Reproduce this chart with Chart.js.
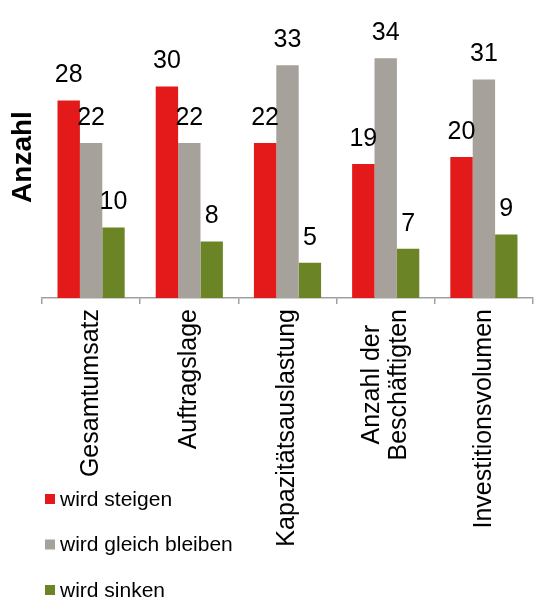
<!DOCTYPE html>
<html>
<head>
<meta charset="utf-8">
<script src="https://cdn.jsdelivr.net/npm/chart.js@4"></script>
<style>
  html, body { margin: 0; padding: 0; background: #fff; }
  #wrap { width: 534px; height: 598px; }
</style>
</head>
<body>
<div id="wrap"><canvas id="chart"></canvas></div>
<script>
const categories = ['Gesamtumsatz', 'Auftragslage', 'Kapazitätsauslastung', ['Anzahl der', 'Beschäftigten'], 'Investitionsvolumen'];
const seriesNames = ['wird steigen', 'wird gleich bleiben', 'wird sinken'];
const steigen = [28, 30, 22, 19, 20];
const gleich = [22, 22, 33, 34, 31];
const sinken = [10, 8, 5, 7, 9];
const colors = ['#E41A1A', '#A6A29B', '#6B8526'];

const FONT = '"Liberation Sans", Arial, sans-serif';

// value labels above each bar
const valueLabels = {
    id: 'valueLabels',
    afterDatasetsDraw(chart) {
        const ctx = chart.ctx;
        ctx.save();
        ctx.font = '25px ' + FONT;
        ctx.fillStyle = '#000';
        ctx.textAlign = 'center';
        ctx.textBaseline = 'middle';
        chart.data.datasets.forEach(function (ds, i) {
            chart.getDatasetMeta(i).data.forEach(function (bar, j) {
                ctx.fillText(ds.data[j], bar.x, bar.y - 25);
            });
        });
        ctx.restore();
    }
};

// center multi-line category labels on their tick, lines centred like Excel
const centerMultiline = {
    id: 'centerMultiline',
    beforeDraw(chart) {
        const scale = chart.scales.x;
        const items = scale.getLabelItems();
        const ctx = chart.ctx;
        items.forEach(function (item) {
            if (!Array.isArray(item.label) || item._centered || !item.font) return;
            ctx.save();
            ctx.font = item.font.string;
            let widest = Math.max.apply(null, item.label.map(function (l) { return ctx.measureText(l).width; }));
            ctx.restore();
            let lh = item.font.lineHeight;
            item.options.translation[0] -= (item.label.length - 1) * lh / 2;
            item.options.translation[1] += widest / 2;
            item.options.textAlign = 'center';
            item._centered = true;
        });
    }
};

// legend drawn in the lower left, over the label area like the original
const sideLegend = {
    id: 'sideLegend',
    afterDraw(chart) {
        const ctx = chart.ctx;
        ctx.save();
        ctx.font = '21px ' + FONT;
        ctx.textBaseline = 'middle';
        chart.data.datasets.forEach(function (ds, i) {
            let y = 499 + i * 45.5;
            ctx.fillStyle = ds.backgroundColor;
            ctx.fillRect(45, y - 5, 10, 10);
            ctx.fillStyle = '#000';
            ctx.fillText(ds.label, 60, y + 1);
        });
        ctx.restore();
    }
};

const ctx = document.getElementById('chart').getContext('2d');
let chart = new Chart(ctx, {
    type: 'bar',
    data: {
        labels: categories,
        datasets: [
            { label: seriesNames[0], data: steigen, backgroundColor: colors[0] },
            { label: seriesNames[1], data: gleich, backgroundColor: colors[1] },
            { label: seriesNames[2], data: sinken, backgroundColor: colors[2] }
        ]
    },
    options: {
        responsive: true,
        maintainAspectRatio: false,
        animation: false,
        layout: { padding: { top: 16, right: 1, left: 0, bottom: 0 } },
        datasets: {
            bar: { barPercentage: 1, categoryPercentage: 0.684 }
        },
        plugins: {
            legend: { display: false },
            tooltip: { enabled: false }
        },
        scales: {
            x: {
                grid: {
                    offset: true,
                    drawOnChartArea: false,
                    drawTicks: true,
                    tickLength: 6,
                    color: '#a0a0a0',
                    lineWidth: 1.5
                },
                border: { color: '#a0a0a0', width: 1.5 },
                ticks: {
                    minRotation: 90,
                    maxRotation: 90,
                    autoSkip: false,
                    padding: 5,
                    color: '#000',
                    font: { family: FONT, size: 25, lineHeight: 1.05 }
                },
                afterFit(scale) { scale.height = 300; }
            },
            y: {
                min: 0,
                max: 40,
                grid: { display: false },
                border: { display: false },
                ticks: { display: false },
                title: {
                    display: true,
                    text: 'Anzahl',
                    color: '#000',
                    padding: { top: 6, bottom: 0 },
                    font: { family: FONT, size: 28, weight: 'bold' }
                },
                afterFit(scale) { scale.width = 42; }
            }
        }
    },
    plugins: [valueLabels, centerMultiline, sideLegend]
});
</script>
</body>
</html>
